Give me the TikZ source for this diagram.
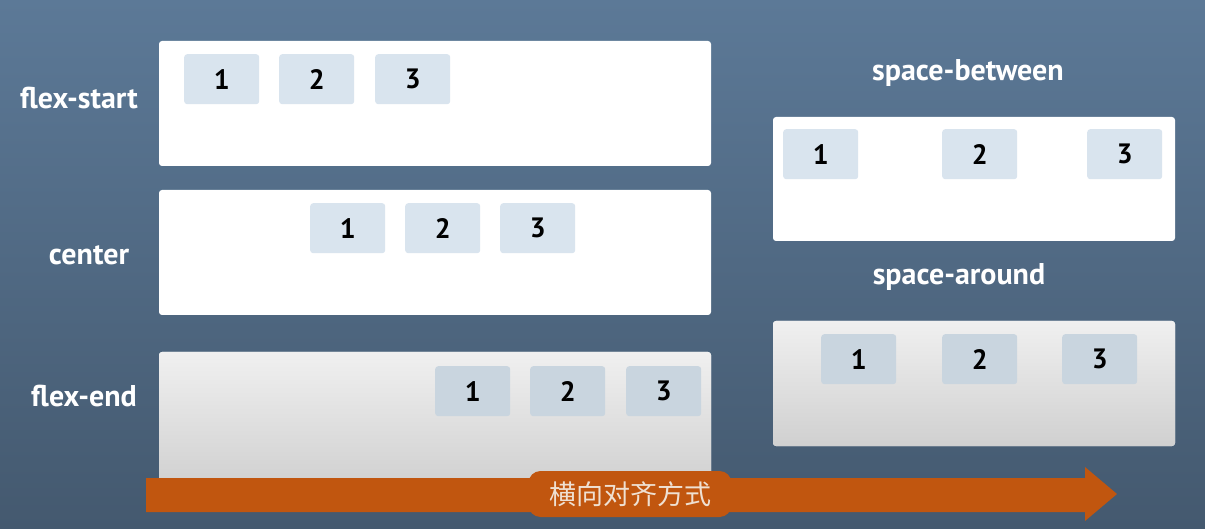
\documentclass[tikz,border=0pt]{standalone}
\usepackage{fontspec}
\newfontfamily\labfont{PT Sans}
\newfontfamily\cjk{Noto Sans CJK SC}
\definecolor{bgtop}{HTML}{5C7997}
\definecolor{bgbot}{HTML}{44596F}
\definecolor{itemc}{HTML}{D9E4EE}
\definecolor{itemg}{HTML}{C9D5DF}
\definecolor{contgtop}{HTML}{F0F0F0}
\definecolor{contgbot}{HTML}{D0D0D0}
\definecolor{arrowc}{HTML}{C1560F}
\definecolor{cjktext}{HTML}{EFE0D2}
\tikzset{
  cont/.style={fill=white, rounded corners=3pt, minimum width=552pt, minimum height=125pt, anchor=north west, inner sep=0pt, outer sep=0pt},
  contg/.style={cont, top color=contgtop, bottom color=contgbot},
  scont/.style={cont, minimum width=402pt, minimum height=124pt},
  scontg/.style={scont, top color=contgtop, bottom color=contgbot},
  item/.style={fill=itemc, rounded corners=3pt, minimum width=75pt, minimum height=50pt, anchor=north west, inner sep=0pt, text=black, font=\labfont\bfseries\fontsize{28pt}{32pt}\selectfont},
  itemg/.style={item, fill=itemg},
  lab/.style={text=white, inner sep=0pt, font=\labfont\bfseries\fontsize{30pt}{34pt}\selectfont},
}
\begin{document}
\begin{tikzpicture}[x=1pt,y=-1pt]
\fill[top color=bgtop, bottom color=bgbot] (0,0) rectangle (1205,529);
\useasboundingbox (0,0) rectangle (1205,529);
% flex-start
\node[cont] (fs) at (159,41) {};
\node[item] (fs1) at (184,54) {1};
\node[item] (fs2) at (279,54) {2};
\node[item] (fs3) at (375,54) {3};
\node[lab] (lfs) at (79,98) {flex-start};
% center
\node[cont] (ce) at (159,190) {};
\node[item] (ce1) at (310,203) {1};
\node[item] (ce2) at (405,203) {2};
\node[item] (ce3) at (500,203) {3};
\node[lab] (lce) at (89,255) {center};
% flex-end
\node[contg, minimum height=135pt] (fe) at (159,352) {};
\node[itemg] (fe1) at (435,366) {1};
\node[itemg] (fe2) at (530,366) {2};
\node[itemg] (fe3) at (626,366) {3};
\node[lab] (lfe) at (84,396) {flex-end};
% space-between
\node[scont] (sb) at (773,117) {};
\node[item] (sb1) at (783,129) {1};
\node[item] (sb2) at (942,129) {2};
\node[item] (sb3) at (1087,129) {3};
\node[lab] (lsb) at (968,73) {space-between};
% space-around
\node[scontg, minimum height=125pt] (sa) at (773,321) {};
\node[itemg] (sa1) at (821,334) {1};
\node[itemg] (sa2) at (942,334) {2};
\node[itemg] (sa3) at (1062,334) {3};
\node[lab] (lsa) at (959,277) {space-around};
% arrow
\fill[arrowc] (146,478) -- (1085,478) -- (1085,467) -- (1117,494) -- (1085,521) -- (1085,512) -- (146,512) -- cycle;
\node[fill=arrowc, rounded corners=12pt, minimum width=203pt, minimum height=46pt, inner sep=0pt, text=cjktext, font=\cjk\fontsize{27pt}{30pt}\selectfont] (hl) at (630,494) {横向对齐方式};
\end{tikzpicture}
\end{document}
